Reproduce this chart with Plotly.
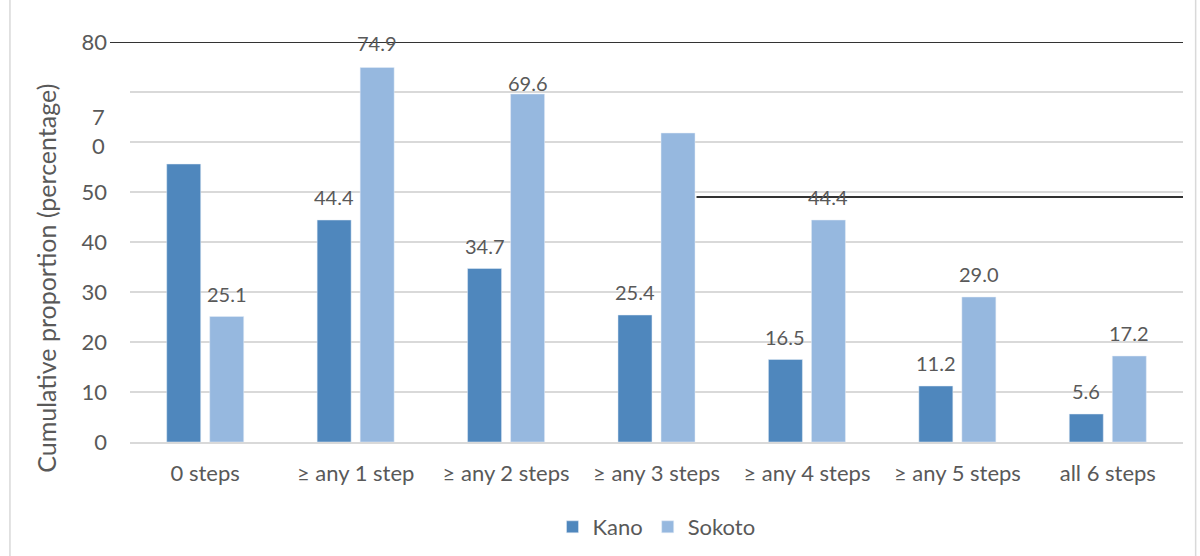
import plotly.graph_objects as go

categories = ["0 steps", "≥ any 1 step", "≥ any 2 steps", "≥ any 3 steps",
              "≥ any 4 steps", "≥ any 5 steps", "all 6 steps"]
kano = [55.6, 44.4, 34.7, 25.4, 16.5, 11.2, 5.6]
sokoto = [25.1, 74.9, 69.6, 61.8, 44.4, 29.0, 17.2]
# which value labels are visible in the reference
kano_label_shown = [False, True, True, True, True, True, True]
sokoto_label_shown = [True, True, True, False, True, True, True]
y_tickvals = [0, 10, 20, 30, 40, 50, 60, 70, 80]
y_ticktext = ["0", "10", "20", "30", "40", "50", "", "", "80"]

KANO_C = "#4F87BD"
SOKOTO_C = "#96B8DF"
TXT = "#595959"
FONT = "Lato"
FS = 22
LFS = 20

fig = go.Figure()
fig.add_trace(go.Bar(name="Kano", x=categories, y=kano, marker_color=KANO_C))
fig.add_trace(go.Bar(name="Sokoto", x=categories, y=sokoto, marker_color=SOKOTO_C))

annotations = []
for i, c in enumerate(categories):
    if kano_label_shown[i]:
        annotations.append(dict(x=c, y=kano[i], xref="x", yref="y", text=f"{kano[i]:.1f}",
                                showarrow=False, xshift=-21.5, yshift=23,
                                font=dict(family=FONT, size=LFS, color=TXT)))
    if sokoto_label_shown[i]:
        ys = 11 if i == 2 else (25 if i == 1 else 23)
        annotations.append(dict(x=c, y=sokoto[i], xref="x", yref="y", text=f"{sokoto[i]:.1f}",
                                showarrow=False, xshift=21.5, yshift=ys,
                                font=dict(family=FONT, size=LFS, color=TXT)))

# broken "70" label as in the reference
annotations.append(dict(x=0, y=62.2, xref="paper", yref="y", text="7<br>0", showarrow=False,
                        xanchor="center", yanchor="middle", xshift=-32, align="center",
                        font=dict(family=FONT, size=FS, color=TXT)))
# y axis title
annotations.append(dict(x=-0.08, y=0.41, xref="paper", yref="paper",
                        xanchor="center", yanchor="middle",
                        text="Cumulative proportion (percentage)", textangle=-90,
                        showarrow=False, font=dict(family=FONT, size=25, color=TXT)))

shapes = [
    # dark line at 80
    dict(type="line", xref="paper", yref="y", x0=-0.019, x1=1.0, y0=80, y1=80,
         line=dict(color="#333333", width=2), layer="above"),
    # dark segment around 49
    dict(type="line", xref="paper", yref="y", x0=0.538, x1=1.0, y0=49, y1=49,
         line=dict(color="#333333", width=2), layer="above"),
    # chart area border
    dict(type="rect", xref="paper", yref="paper", x0=-0.114, x1=1.012, y0=-0.36, y1=1.15,
         line=dict(color="#D9D9D9", width=1.5), layer="below"),
]

fig.update_layout(
    width=1200, height=556,
    margin=dict(l=130, r=17, t=42, b=114, autoexpand=False),
    paper_bgcolor="white", plot_bgcolor="white",
    barmode="group", bargap=0.428, bargroupgap=0.21,
    font=dict(family=FONT, size=FS, color=TXT),
    showlegend=True,
    legend=dict(orientation="h", x=0.5, xanchor="center", y=-0.16, yanchor="top",
                font=dict(family=FONT, size=FS, color=TXT), itemwidth=30),
    annotations=annotations,
    shapes=shapes,
)
fig.update_xaxes(showgrid=False, showline=True, linecolor="#D9D9D9", linewidth=2,
                 ticks="outside", ticklen=11, tickcolor="rgba(0,0,0,0)", automargin=False,
                 tickfont=dict(family=FONT, size=FS, color=TXT))
fig.update_yaxes(range=[0, 80], tickvals=y_tickvals, ticktext=y_ticktext,
                 showgrid=True, gridcolor="#D9D9D9", gridwidth=1.5, zeroline=False,
                 ticklabelstandoff=22, automargin=False,
                 tickfont=dict(family=FONT, size=FS, color=TXT))

fig.write_html("out.html")
